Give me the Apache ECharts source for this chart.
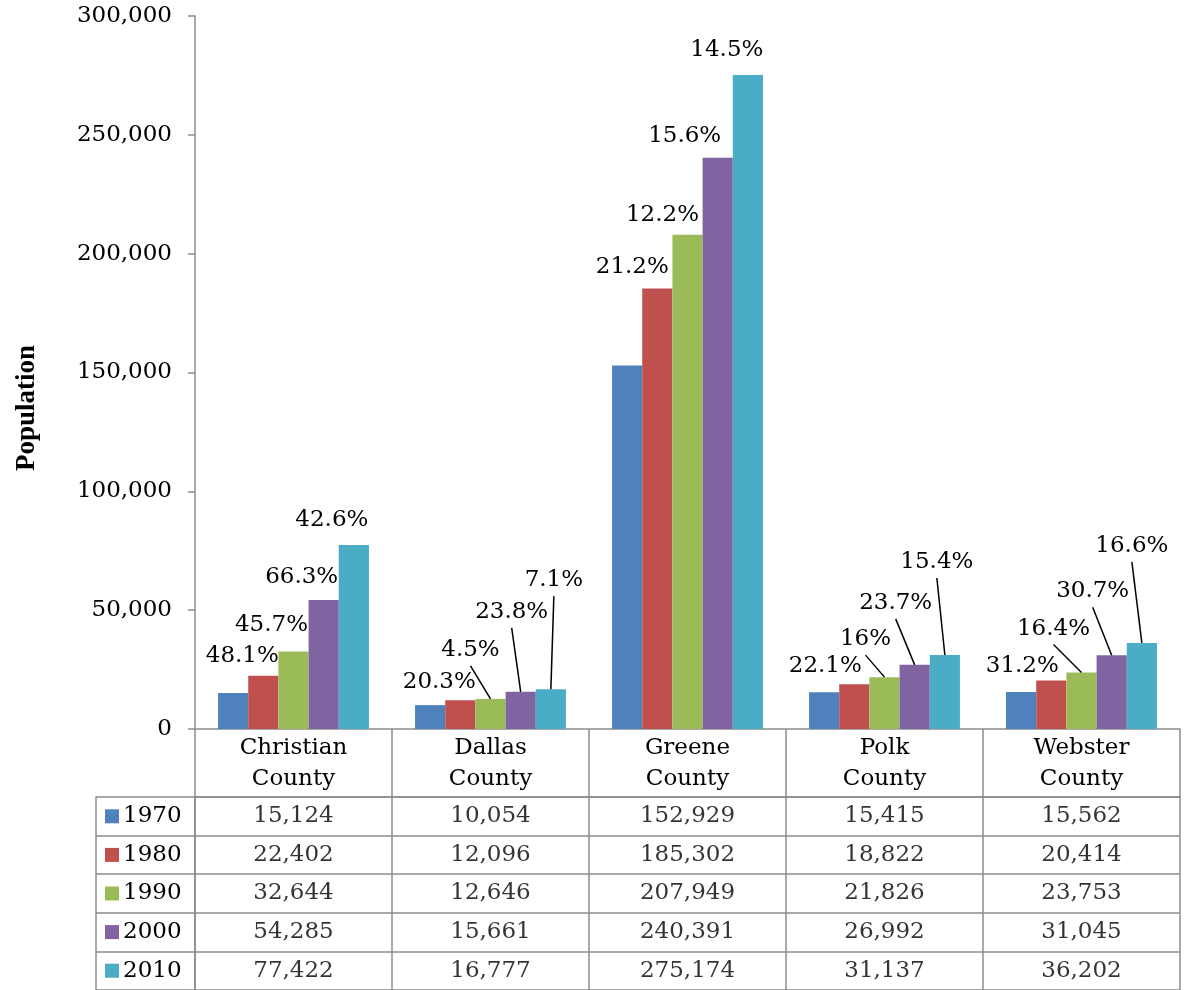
<!DOCTYPE html>
<html><head><meta charset="utf-8">
<script src="https://cdn.jsdelivr.net/npm/echarts@6/dist/echarts.min.js"></script>
<style>html,body{margin:0;padding:0;background:#fff}#c{width:1187px;height:990px}</style>
</head><body><div id="c"></div>
<script>
// ---- data ----
const counties = ['Christian County', 'Dallas County', 'Greene County', 'Polk County', 'Webster County'];
const years = ['1970', '1980', '1990', '2000', '2010'];
const pop1970 = [15124, 10054, 152929, 15415, 15562];
const pop1980 = [22402, 12096, 185302, 18822, 20414];
const pop1990 = [32644, 12646, 207949, 21826, 23753];
const pop2000 = [54285, 15661, 240391, 26992, 31045];
const pop2010 = [77422, 16777, 275174, 31137, 36202];
const growth1980 = ['48.1%', '20.3%', '21.2%', '22.1%', '31.2%'];
const growth1990 = ['45.7%', '4.5%', '12.2%', '16%', '16.4%'];
const growth2000 = ['66.3%', '23.8%', '15.6%', '23.7%', '30.7%'];
const growth2010 = ['42.6%', '7.1%', '14.5%', '15.4%', '16.6%'];
const yMax = 300000, yStep = 50000;

// ---- label placement (style only, pixels) ----
const labelDx = [
  null,
  [-21, -21, -25, -29, -29],
  [-22, -20, -25, -19, -28],
  [-22, -9, -33, -19, -19],
  [-22, 3, -21, -8, -10]
];
const labelRise = [
  null,
  [20, 18, 22, 18, 14],
  [26, 49, 20, 38, 44],
  [23, 80, 22, 62, 64],
  [25, 109, 25, 93, 97]
];
const LEADER_MIN = 30;   // labels raised further than this get a leader line
const CAT_GAP = 0.234;

const colors = ['#4F81BD', '#C0504D', '#9BBB59', '#8064A2', '#4BACC6'];
const FONT = 'DejaVu Serif';
const FS = 23;
const GRAY = '#8c8c8c';
const fmt = v => Number(v).toLocaleString('en-US');

const popSeries = [pop1970, pop1980, pop1990, pop2000, pop2010];
const growth = [null, growth1980, growth1990, growth2000, growth2010];

const series = popSeries.map((vals, s) => {
  const o = {
    name: years[s], type: 'bar', xAxisIndex: 0, yAxisIndex: 0,
    barGap: '0%', barCategoryGap: (CAT_GAP * 100) + '%',
    itemStyle: {color: colors[s]},
    data: vals
  };
  if (growth[s]) {
    o.label = {show: true, position: 'top', color: '#000', fontFamily: FONT, fontSize: FS,
      formatter: p => growth[s][p.dataIndex]};
    o.labelLayout = p => {
      const i = p.dataIndex;
      const bx = p.rect.x + p.rect.width / 2;
      return {x: bx + labelDx[s][i], y: p.rect.y - labelRise[s][i], align: 'center', verticalAlign: 'middle'};
    };
  }
  return o;
});

// leader lines: from bar top centre up to the raised label
const leaderData = [];
popSeries.forEach((vals, s) => {
  if (!labelRise[s]) return;
  vals.forEach((v, i) => { if (labelRise[s][i] > LEADER_MIN) leaderData.push([i, v, s]); });
});
series.push({
  type: 'custom', xAxisIndex: 0, yAxisIndex: 0, silent: true, z: 5,
  renderItem: (params, api) => {
    const i = api.value(0), v = api.value(1), s = api.value(2);
    const pt = api.coord([i, v]);
    const bw = api.size([1, 0])[0] * (1 - CAT_GAP) / popSeries.length;
    const bx = pt[0] + (s - (popSeries.length - 1) / 2) * bw;
    const top = pt[1];
    const lx = bx + labelDx[s][i];
    const ly = top - labelRise[s][i] + 16;
    return {type: 'line', shape: {x1: lx, y1: ly, x2: bx, y2: top},
      style: {stroke: '#000', lineWidth: 1.5}};
  },
  data: leaderData
});

// table cells
const cellData = [];
popSeries.forEach((vals, r) => vals.forEach((v, c) => cellData.push([c, r, v])));
series.push({
  type: 'scatter', xAxisIndex: 1, yAxisIndex: 1, symbol: 'rect', symbolSize: 1,
  itemStyle: {color: 'rgba(0,0,0,0)'}, silent: true,
  label: {show: true, position: 'inside', color: '#000', fontFamily: FONT, fontSize: FS,
    formatter: p => fmt(p.data[2])},
  data: cellData
});

const rich = {t: {fontFamily: FONT, fontSize: FS, color: '#000', padding: [0, 0, 0, 4], verticalAlign: 'middle'}};
years.forEach((y, i) => { rich['b' + i] = {width: 14, height: 14, backgroundColor: colors[i], verticalAlign: 'middle'}; });

const option = {
  backgroundColor: '#fff',
  animation: false,
  textStyle: {fontFamily: FONT},
  grid: [
    {left: 195, right: 7, top: 16, bottom: 261},
    {left: 195, right: 7, top: 797, height: 197}
  ],
  xAxis: [
    {type: 'category', gridIndex: 0, data: counties,
      axisLine: {show: true, lineStyle: {color: GRAY, width: 1.5}},
      axisTick: {show: true, length: 68, interval: 0, lineStyle: {color: GRAY, width: 1.5}},
      axisLabel: {interval: 0, margin: 4, color: '#000', fontFamily: FONT, fontSize: FS, lineHeight: 31,
        formatter: v => v.replace(' ', '\n')},
      splitLine: {show: false}},
    {type: 'category', gridIndex: 1, data: counties, position: 'top',
      axisLine: {show: true, lineStyle: {color: GRAY, width: 1.5}},
      axisTick: {show: false}, axisLabel: {show: false},
      splitLine: {show: true, interval: 0, lineStyle: {color: GRAY, width: 1.5}}}
  ],
  yAxis: [
    {type: 'value', gridIndex: 0, min: 0, max: yMax, interval: yStep,
      axisLine: {show: true, lineStyle: {color: GRAY, width: 1.5}},
      axisTick: {show: true, length: 7, lineStyle: {color: GRAY, width: 1.5}},
      axisLabel: {margin: 23, color: '#000', fontFamily: FONT, fontSize: FS, formatter: v => fmt(v)},
      splitLine: {show: false}},
    {type: 'category', gridIndex: 1, data: years, inverse: true,
      axisLine: {show: true, lineStyle: {color: GRAY, width: 1.5}},
      axisTick: {show: true, length: 99, interval: 0, lineStyle: {color: GRAY, width: 1.5}},
      axisLabel: {interval: 0, margin: 90, align: 'left',
        formatter: (v, i) => '{b' + i + '|}{t|' + v + '}', rich: rich},
      splitLine: {show: true, interval: 0, lineStyle: {color: GRAY, width: 1.5}}},
    {type: 'category', gridIndex: 1, data: years, inverse: true, position: 'left', offset: 99,
      axisLine: {show: true, lineStyle: {color: GRAY, width: 1.5}},
      axisTick: {show: false}, axisLabel: {show: false}, splitLine: {show: false}}
  ],
  graphic: [{
    type: 'text', x: 27, y: 408, rotation: Math.PI / 2,
    style: {text: 'Population', fill: '#000', font: 'bold 27px "Liberation Serif"', align: 'center', verticalAlign: 'middle'}
  }],
  series: series
};

const chart = echarts.init(document.getElementById('c'), null, {renderer: 'canvas'});
chart.setOption(option);
</script>
</body></html>
